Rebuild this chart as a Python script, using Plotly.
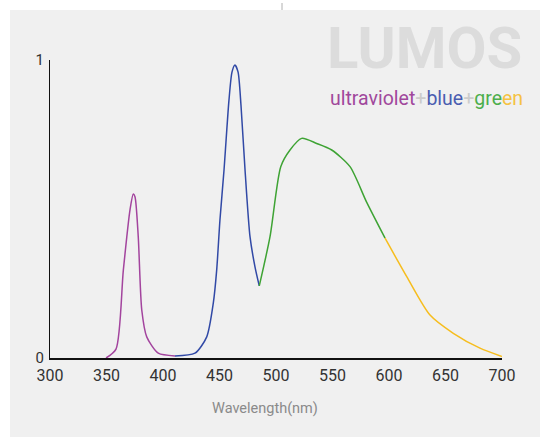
import plotly.graph_objects as go

# Spectrum (wavelength nm, relative intensity)
uv_nm = [349.6, 358.4, 364.9, 370.8, 373.7, 375.2, 378.1, 381.2, 385.6, 395.8, 410.6]
uv_val = [0.0, 0.030, 0.295, 0.497, 0.550, 0.541, 0.407, 0.161, 0.071, 0.016, 0.007]

blue_nm = [410.6, 428.3, 438.7, 444.5, 447.5, 450.4, 454.0, 458.4, 461.1, 463.7, 466.4, 469.0, 472.6, 477.0, 481.4, 485.2]
blue_val = [0.007, 0.016, 0.071, 0.184, 0.295, 0.463, 0.631, 0.866, 0.960, 0.983, 0.960, 0.849, 0.631, 0.407, 0.306, 0.242]

green_nm = [485.2, 494.7, 504.2, 512.4, 522.7, 536.0, 549.3, 565.5, 580.3, 596.5]
green_val = [0.242, 0.407, 0.642, 0.698, 0.737, 0.720, 0.698, 0.642, 0.522, 0.402]

yellow_nm = [596.5, 615.7, 636.3, 656.9, 680.5, 700.0]
yellow_val = [0.402, 0.273, 0.144, 0.083, 0.033, 0.005]

x_ticks = [300, 350, 400, 450, 500, 550, 600, 650, 700]
y_ticks = [0, 1]

W, H = 541, 439
L, R, T, B = 50, 502, 60, 358  # plot area in pixels


def px(xp):
    return (xp - L) / (R - L)


def py(yp):
    return (B - yp) / (B - T)


fig = go.Figure()
for xs, ys, col in [(uv_nm, uv_val, "#a3449e"), (blue_nm, blue_val, "#3149a6"),
                    (green_nm, green_val, "#3ea334"), (yellow_nm, yellow_val, "#f6bd1e")]:
    fig.add_trace(go.Scatter(x=xs, y=ys, mode="lines",
                             line=dict(color=col, width=1.5, shape="spline", smoothing=0.7),
                             hoverinfo="skip", showlegend=False))

fig.update_layout(
    width=W, height=H,
    margin=dict(l=L, r=W - R, t=T, b=H - B),
    paper_bgcolor="white",
    plot_bgcolor="rgba(0,0,0,0)",
    font=dict(family="Roboto, Liberation Sans, sans-serif", color="#333333"),
    xaxis=dict(range=[300, 700], tickvals=x_ticks, ticktext=[str(v) for v in x_ticks],
               showgrid=False, zeroline=False, showline=True, linecolor="#111111", linewidth=1.5,
               ticks="", tickfont=dict(size=16, color="#333333"), ticklabelstandoff=2),
    yaxis=dict(range=[0, 1], tickvals=y_ticks, ticktext=["0", "1"],
               showgrid=False, zeroline=False, showline=True, linecolor="#111111", linewidth=1.3,
               ticks="", tickfont=dict(size=15, color="#333333"), ticklabelstandoff=2),
    shapes=[
        dict(type="rect", xref="paper", yref="paper", x0=px(10), x1=px(540), y0=py(437), y1=py(10),
             fillcolor="#f0f0f0", line=dict(width=0), layer="below"),
        dict(type="line", xref="paper", yref="paper", x0=px(282), x1=px(282), y0=py(10), y1=py(3),
             line=dict(color="#b0b0b0", width=1)),
    ],
    annotations=[
        dict(text="<b>LUMOS</b>", xref="paper", yref="paper", x=px(524), y=py(48),
             xanchor="right", yanchor="middle", showarrow=False,
             font=dict(size=58, color="#dcdcdc", family="Roboto, Liberation Sans, sans-serif")),
        dict(text=("<span style='color:#a0489c'>ultraviolet</span>"
                   "<span style='color:#cccccc'>+</span>"
                   "<span style='color:#4a5db0'>blue</span>"
                   "<span style='color:#cccccc'>+</span>"
                   "<span style='color:#4cae4c'>gre</span>"
                   "<span style='color:#f5c242'>en</span>"),
             xref="paper", yref="paper", x=px(525), y=py(98),
             xanchor="right", yanchor="middle", showarrow=False,
             font=dict(size=19.5, family="Roboto, Liberation Sans, sans-serif")),
        dict(text="Wavelength(nm)", xref="paper", yref="paper", x=px(265), y=py(408),
             xanchor="center", yanchor="middle", showarrow=False,
             font=dict(size=14.5, color="#8a8a8a", family="Roboto, Liberation Sans, sans-serif")),
    ],
)

fig.write_html("out.html", config={"displayModeBar": False},
               post_script="document.body.style.margin='0';document.body.style.overflow='hidden';")
